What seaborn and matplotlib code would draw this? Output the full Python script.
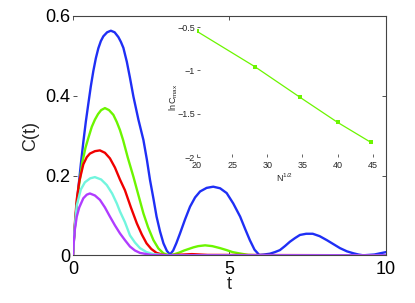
import numpy as np
import pandas as pd
import seaborn as sns
import matplotlib
matplotlib.use("Agg")
import matplotlib.pyplot as plt

# C(t) curves, values
t_blue = [0, 0.03, 0.06, 0.1, 0.15, 0.2, 0.25, 0.33, 0.41, 0.49, 0.57, 0.65, 0.73, 0.81, 0.89, 0.97, 1.09,
          1.21, 1.33, 1.45, 1.53, 1.61, 1.72, 1.82, 1.93, 2.09, 2.25, 2.36, 2.46, 2.57, 2.67, 2.78,
          2.89, 3.0, 3.1, 3.2, 3.3, 3.42, 3.58, 3.74, 3.9, 4.06, 4.27, 4.48, 4.7, 4.91, 5.12, 5.34,
          5.5, 5.65, 5.8, 5.95, 6.1, 6.29, 6.45, 6.61, 6.77, 6.93, 7.09, 7.25, 7.45, 7.66, 7.88,
          8.11, 8.32, 8.53, 8.75, 8.96, 9.12, 9.27, 9.45, 9.63, 9.81, 10]
c_blue = [0, 0.04, 0.072, 0.11, 0.152, 0.19, 0.228, 0.284, 0.335, 0.38, 0.424, 0.462, 0.494, 0.519, 0.537, 0.549, 0.559,
          0.563, 0.559, 0.547, 0.535, 0.52, 0.485, 0.445, 0.398, 0.34, 0.289, 0.24, 0.189, 0.142, 0.097, 0.06,
          0.03, 0.011, 0.002, 0.012, 0.03, 0.055, 0.09, 0.122, 0.145, 0.16, 0.169, 0.172, 0.168, 0.156, 0.13, 0.097,
          0.066, 0.038, 0.014, 0.001, 0.002, 0.004, 0.008, 0.013, 0.023, 0.034, 0.043, 0.051, 0.054, 0.054, 0.048,
          0.038, 0.028, 0.018, 0.01, 0.005, 0.002, 0.0, 0.001, 0.002, 0.005, 0.008]

t_green = [0, 0.03, 0.06, 0.12, 0.2, 0.3, 0.4, 0.49, 0.6, 0.7, 0.8, 0.9, 1.02, 1.15, 1.29, 1.4, 1.5,
           1.6, 1.75, 1.93, 2.1, 2.25, 2.4, 2.57, 2.73, 2.89, 3.0, 3.1, 3.25, 3.4, 3.55, 3.7, 3.85,
           4.0, 4.22, 4.45, 4.7, 4.91, 5.1, 5.3, 5.6, 6.0, 10]
c_green = [0, 0.04, 0.07, 0.13, 0.18, 0.234, 0.27, 0.294, 0.322, 0.34, 0.354, 0.364, 0.369, 0.364, 0.352, 0.334, 0.314,
           0.289, 0.245, 0.197, 0.148, 0.105, 0.07, 0.038, 0.017, 0.005, 0.002, 0.0, 0.003, 0.007, 0.012, 0.016, 0.02,
           0.023, 0.025, 0.023, 0.018, 0.013, 0.008, 0.005, 0.001, 0, 0]

t_red = [0, 0.03, 0.06, 0.12, 0.2, 0.33, 0.44, 0.54, 0.7, 0.86, 1.02, 1.18, 1.34, 1.5, 1.66, 1.85,
         2.04, 2.2, 2.35, 2.5, 2.67, 2.85, 3.0, 3.3, 3.8, 4.3, 10]
c_red = [0, 0.045, 0.08, 0.14, 0.185, 0.228, 0.246, 0.255, 0.261, 0.263, 0.257, 0.243, 0.22, 0.19, 0.163, 0.12,
         0.08, 0.052, 0.03, 0.016, 0.006, 0.002, 0, 0.001, 0.003, 0.001, 0]

t_cyan = [0, 0.03, 0.06, 0.12, 0.25, 0.38, 0.55, 0.7, 0.9, 1.08, 1.25, 1.4, 1.5, 1.66, 1.82, 1.98,
          2.14, 2.35, 2.57, 3.0, 10]
c_cyan = [0, 0.045, 0.075, 0.125, 0.165, 0.183, 0.193, 0.196, 0.19, 0.176, 0.155, 0.13, 0.11, 0.083, 0.05, 0.032,
          0.018, 0.008, 0.003, 0, 0]

t_purple = [0, 0.015, 0.03, 0.06, 0.12, 0.2, 0.33, 0.44, 0.54, 0.7, 0.86, 1.02, 1.18, 1.34, 1.5, 1.66,
            1.82, 1.98, 2.14, 2.5, 3.0, 10]
c_purple = [0, 0.022, 0.038, 0.065, 0.097, 0.12, 0.143, 0.152, 0.155, 0.15, 0.139, 0.12, 0.097, 0.075, 0.055, 0.038,
            0.022, 0.012, 0.006, 0.001, 0, 0]

# inset: ln C_max against N^(1/2)
sqrt_n = [20, 28.28, 34.64, 40, 44.72]
ln_cmax = [-0.55, -0.96, -1.31, -1.60, -1.83]

curves = [
    (t_blue, c_blue, "#1f2ff5"),
    (t_green, c_green, "#6cf500"),
    (t_red, c_red, "#f00000"),
    (t_cyan, c_cyan, "#72f5de"),
    (t_purple, c_purple, "#b03cff"),
]

sns.set_style("ticks")
plt.rcParams["font.family"] = ["Liberation Sans", "DejaVu Sans"]

fig = plt.figure(figsize=(4.15, 3.03), dpi=100)
ax = fig.add_axes([0.1759, 0.1574, 0.7542, 0.79])

for tt, cc, col in curves:
    sns.lineplot(x=tt, y=cc, color=col, lw=1.7, ax=ax)

ax.set_xlim(0, 10)
ax.set_ylim(0, 0.6)
ax.set_xticks([0, 5, 10])
ax.set_xticklabels(["0", "5", "10"])
ax.set_yticks([0, 0.2, 0.4, 0.6])
ax.set_yticklabels(["0", "0.2", "0.4", "0.6"])
ax.tick_params(direction="in", length=3, width=0.6, top=True, right=True,
               labelsize=13, pad=2, colors="#333333", labelcolor="black")
ax.tick_params(axis="x", pad=4)
ax.spines["left"].set_visible(False)
for s in ["top", "right", "bottom"]:
    ax.spines[s].set_color("#444444")
    ax.spines[s].set_linewidth(0.8)
ax.set_xlabel("t", fontsize=13, labelpad=-1)
ax.set_ylabel("C(t)", fontsize=13, labelpad=4)

# inset
ax_in = fig.add_axes([0.4747, 0.4818, 0.4234, 0.429])
ax_in.set_facecolor("none")
sns.lineplot(x=sqrt_n, y=ln_cmax, color="#6cf500", lw=0.9, marker="s",
             markersize=3.5, markeredgewidth=0, ax=ax_in)
ax_in.set_xlim(20, 45)
ax_in.set_ylim(-2, -0.5)
ax_in.set_xticks([20, 25, 30, 35, 40, 45])
ax_in.set_yticks([-2, -1.5, -1, -0.5])
ax_in.set_yticklabels(["\u22122", "\u22121.5", "\u22121", "\u22120.5"])
for s in ax_in.spines.values():
    s.set_visible(False)
ax_in.tick_params(direction="in", length=2, width=0.5, labelsize=6.5, pad=1.5)
ax_in.tick_params(axis="x", pad=3)
ax_in.set_xlabel("N$^{\\mathregular{1/2}}$", fontsize=6.5)
ax_in.set_ylabel("lnC$_{\\mathregular{max}}$", fontsize=6.5)
ax_in.xaxis.set_label_coords(0.5, -0.11)
ax_in.yaxis.set_label_coords(-0.095, 0.46)

fig.savefig("out.png", dpi=100)
